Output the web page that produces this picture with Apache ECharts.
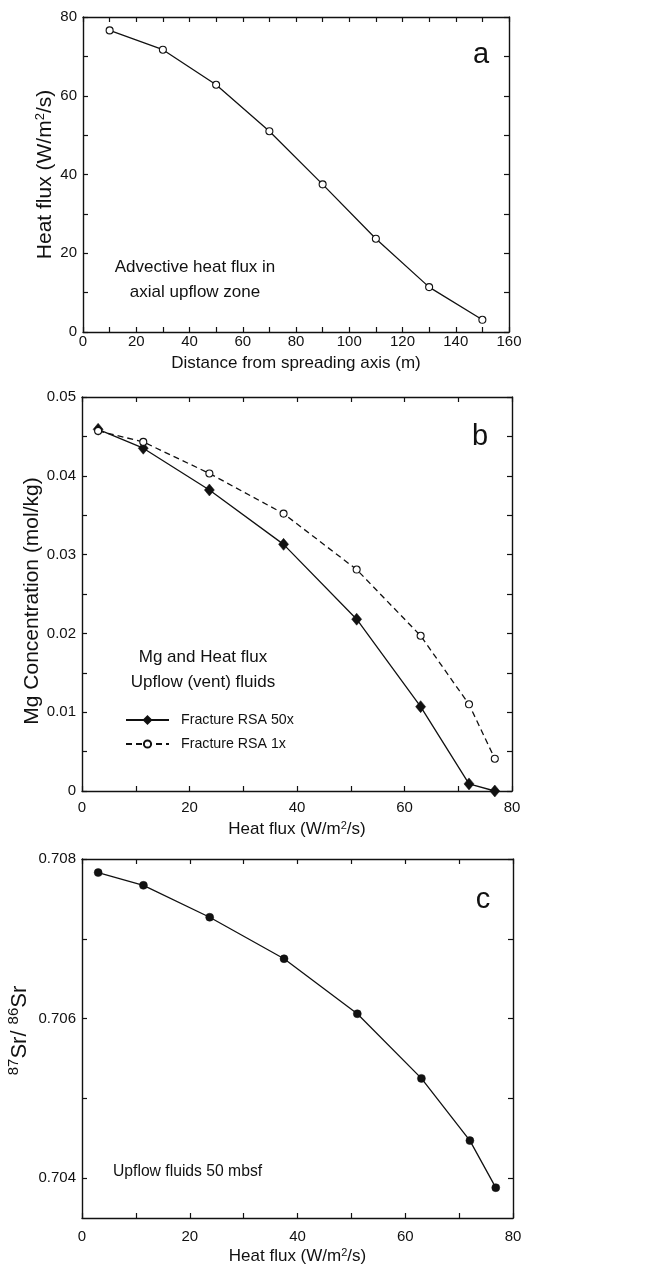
<!DOCTYPE html>
<html>
<head>
<meta charset="utf-8">
<script src="https://cdn.jsdelivr.net/npm/echarts@6/dist/echarts.min.js"></script>
<style>
  html, body { margin: 0; padding: 0; background: #fff; }
  #chart { width: 648px; height: 1267px; }
</style>
</head>
<body>
<div id="chart"></div>
<script>
// Panel a: advective heat flux vs distance from the spreading axis
const distance = [10, 30, 50, 70, 90, 110, 130, 150];
const heatFluxA = [76.6, 71.7, 62.8, 51.0, 37.5, 23.7, 11.4, 3.1];

// Panels b and c share the heat-flux abscissa
const heatFlux = [3.0, 11.4, 23.7, 37.5, 51.1, 63.0, 72.0, 76.8];
const mgRsa50 = [0.0459, 0.0435, 0.0382, 0.0313, 0.0218, 0.0107, 0.0009, 0.0000];
const mgRsa1 = [0.0457, 0.0443, 0.0403, 0.0352, 0.0281, 0.0197, 0.0110, 0.0041];
const srRatio = [0.70783, 0.70767, 0.70727, 0.70675, 0.70606, 0.70525, 0.70447, 0.70388];

// Tick positions and labels
const ticksA_x = [0, 10, 20, 30, 40, 50, 60, 70, 80, 90, 100, 110, 120, 130, 140, 150, 160];
const labelsA_x = [0, 20, 40, 60, 80, 100, 120, 140, 160];
const ticksA_y = [0, 10, 20, 30, 40, 50, 60, 70, 80];
const labelsA_y = [0, 20, 40, 60, 80];
const ticksHF = [0, 10, 20, 30, 40, 50, 60, 70, 80];
const labelsHF = [0, 20, 40, 60, 80];
const ticksB_y = [0, 0.005, 0.01, 0.015, 0.02, 0.025, 0.03, 0.035, 0.04, 0.045, 0.05];
const labelsB_y = [0, 0.01, 0.02, 0.03, 0.04, 0.05];
const ticksC_y = [0.704, 0.705, 0.706, 0.707, 0.708];
const labelsC_y = [0.704, 0.706, 0.708];

const FONT = "'Liberation Sans', Arial, Helvetica, sans-serif";
const INK = '#111';

function axisPair(kind, gridIndex, min, max, ticks, labels, opts) {
  const isX = kind === 'x';
  const base = {
    type: 'value', gridIndex, min, max,
    axisLine: { show: true, onZero: false, lineStyle: { color: INK, width: 1.4 } },
    splitLine: { show: false },
    axisTick: { show: true, inside: true, length: 5, customValues: ticks, lineStyle: { color: INK, width: 1.2 } }
  };
  const main = Object.assign({}, base, {
    position: isX ? 'bottom' : 'left',
    axisLabel: {
      show: true, customValues: labels, margin: opts.labelMargin,
      fontFamily: FONT, fontSize: 15, color: INK,
      formatter: opts.fmt || (v => String(v))
    },
    name: opts.name, nameLocation: 'middle', nameGap: opts.nameGap,
    nameMoveOverlap: false,
    nameRotate: isX ? 0 : 90,
    nameTextStyle: {
      fontFamily: FONT, fontSize: opts.nameSize, color: INK,
      padding: opts.namePad || 0,
      rich: {
        sup: { fontFamily: FONT, fontSize: opts.supSize, color: INK, padding: [0, 0, opts.supRaise, 0] },
        n: { fontFamily: FONT, fontSize: opts.nameSize, color: INK }
      }
    }
  });
  const mirror = Object.assign({}, base, {
    position: isX ? 'top' : 'right',
    axisLabel: { show: false }
  });
  return [main, mirror];
}

const hfName = '{n|Heat flux (W/m}{sup|2}{n|/s)}';

const xAxes = [
  ...axisPair('x', 0, 0, 160, ticksA_x, labelsA_x, { name: 'Distance from spreading axis (m)', nameGap: 23, nameSize: 17, labelMargin: 2 }),
  ...axisPair('x', 1, 0, 80, ticksHF, labelsHF, { name: hfName, nameGap: 29, nameSize: 17, supSize: 11, supRaise: 8, labelMargin: 9 }),
  ...axisPair('x', 2, 0, 80, ticksHF, labelsHF, { name: hfName, nameGap: 29, nameSize: 17, supSize: 11, supRaise: 8, labelMargin: 11 })
];
const yAxes = [
  ...axisPair('y', 0, 0, 80, ticksA_y, labelsA_y, { name: hfName, nameGap: 26, nameSize: 21, supSize: 13, supRaise: 10, labelMargin: 6 }),
  ...axisPair('y', 1, 0, 0.05, ticksB_y, labelsB_y, { name: 'Mg Concentration (mol/kg)', nameGap: 39, nameSize: 21, labelMargin: 6, namePad: [0, 14, 0, 0] }),
  ...axisPair('y', 2, 0.7035, 0.708, ticksC_y, labelsC_y, {
    name: '{sup|87}{n|Sr/ }{sup|86}{n|Sr}', nameGap: 49, nameSize: 22, supSize: 15, supRaise: 12,
    labelMargin: 6, fmt: v => v.toFixed(3), namePad: [0, 0, 0, 16]
  })
];

const lineW = 1.3;

const chart = echarts.init(document.getElementById('chart'), null, { renderer: 'canvas' });
chart.setOption({
  backgroundColor: '#fff',
  animation: false,
  grid: [
    { left: 83, top: 17, width: 426, height: 315, outerBoundsMode: 'none', containLabel: false },
    { left: 82, top: 397, width: 430, height: 394, outerBoundsMode: 'none', containLabel: false },
    { left: 82, top: 859, width: 431, height: 359, outerBoundsMode: 'none', containLabel: false }
  ],
  xAxis: xAxes,
  yAxis: yAxes,
  legend: {
    left: 120, top: 708, orient: 'vertical', itemGap: 10,
    itemWidth: 43, itemHeight: 9,
    textStyle: { fontFamily: FONT, fontSize: 14.2, lineHeight: 14, color: INK, padding: [0, 0, 0, 7] },
    data: ['Fracture RSA 50x', 'Fracture RSA 1x']
  },
  series: [
    {
      type: 'line', xAxisIndex: 0, yAxisIndex: 0,
      data: distance.map((d, i) => [d, heatFluxA[i]]),
      symbol: 'circle', symbolSize: 7,
      itemStyle: { color: '#fff', borderColor: INK, borderWidth: 1.1 },
      lineStyle: { color: INK, width: lineW }
    },
    {
      name: 'Fracture RSA 50x',
      type: 'line', xAxisIndex: 2, yAxisIndex: 2,
      data: heatFlux.map((h, i) => [h, mgRsa50[i]]),
      symbol: 'diamond', symbolSize: [10, 12],
      itemStyle: { color: INK, borderColor: INK, borderWidth: 0.5 },
      lineStyle: { color: INK, width: lineW }
    },
    {
      name: 'Fracture RSA 1x',
      type: 'line', xAxisIndex: 2, yAxisIndex: 2,
      data: heatFlux.map((h, i) => [h, mgRsa1[i]]),
      symbol: 'circle', symbolSize: 7,
      itemStyle: { color: '#fff', borderColor: INK, borderWidth: 1.1 },
      lineStyle: { color: INK, width: lineW, type: [6, 4] }
    },
    {
      type: 'line', xAxisIndex: 4, yAxisIndex: 4,
      data: heatFlux.map((h, i) => [h, srRatio[i]]),
      symbol: 'circle', symbolSize: 8,
      itemStyle: { color: INK, borderColor: INK, borderWidth: 0.5 },
      lineStyle: { color: INK, width: lineW }
    }
  ],
  graphic: [
    { type: 'text', x: 481, y: 69, style: { text: 'a', font: '29px ' + FONT, fill: INK, align: 'center', verticalAlign: 'bottom' } },
    { type: 'text', x: 480, y: 451, style: { text: 'b', font: '29px ' + FONT, fill: INK, align: 'center', verticalAlign: 'bottom' } },
    { type: 'text', x: 483, y: 914, style: { text: 'c', font: '29px ' + FONT, fill: INK, align: 'center', verticalAlign: 'bottom' } },
    {
      type: 'text', x: 195, y: 254.5,
      style: { text: 'Advective heat flux in\naxial upflow zone', font: '17px ' + FONT, fill: INK, align: 'center', lineHeight: 25 }
    },
    {
      type: 'text', x: 203, y: 644.5,
      style: { text: 'Mg and Heat flux\nUpflow (vent) fluids', font: '17px ' + FONT, fill: INK, align: 'center', lineHeight: 25 }
    },
    {
      type: 'text', x: 113, y: 1172,
      style: { text: 'Upflow fluids 50 mbsf', font: '15.7px ' + FONT, fill: INK, verticalAlign: 'middle' }
    }
  ]
});
</script>
</body>
</html>
